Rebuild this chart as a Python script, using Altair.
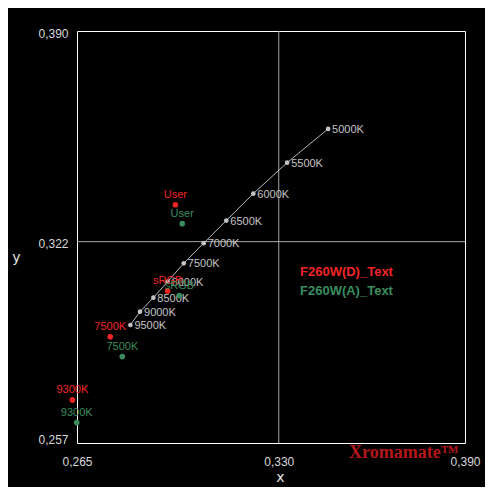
import altair as alt
import pandas as pd

# Daylight locus (gray)
gray_labels = ["5000K", "5500K", "6000K", "6500K", "7000K", "7500K", "8000K", "8500K", "9000K", "9500K"]
gray_x = [0.3459, 0.3327, 0.3218, 0.3131, 0.3058, 0.2994, 0.2942, 0.2896, 0.2853, 0.2822]
gray_y = [0.3584, 0.3475, 0.3375, 0.3288, 0.3215, 0.3150, 0.3091, 0.3039, 0.2994, 0.2951]

# F260W(D) measurements (red)
d_labels = ["User", "sRGB", "7500K", "9300K"]
d_x = [0.2967, 0.2942, 0.2757, 0.2635]
d_y = [0.3339, 0.3061, 0.2913, 0.2709]

# F260W(A) measurements (green)
a_labels = ["User", "sRGB", "7500K", "9300K"]
a_x = [0.2989, 0.2980, 0.2796, 0.2649]
a_y = [0.3278, 0.3046, 0.2849, 0.2636]

x_ticks = [0.265, 0.330, 0.390]
y_ticks = [0.257, 0.322, 0.390]
x_grid = [0.330]
y_grid = [0.322]

legend_texts = ["F260W(D)_Text", "F260W(A)_Text"]
brand = "Xromamate™"

GRAY = "#c4c4c4"
RED = "#f22424"
GREEN = "#3a8c5e"

gray_df = pd.DataFrame({"x": gray_x, "y": gray_y, "label": gray_labels, "order": list(range(len(gray_x)))})
d_df = pd.DataFrame({"x": d_x, "y": d_y, "label": d_labels})
a_df = pd.DataFrame({"x": a_x, "y": a_y, "label": a_labels})

label_expr = "replace(format(datum.value, '.3f'), '.', ',')"

xs = alt.Scale(domain=[0.265, 0.390], nice=False, zero=False)
ys = alt.Scale(domain=[0.257, 0.390], nice=False, zero=False)

x_axis = alt.Axis(
    values=x_ticks, labelExpr=label_expr, grid=False, domain=False, ticks=False, tickSize=0,
    labelFlush=False, labelOverlap=False,
    labelPadding=18, labelBaseline="middle", labelFontSize=12, labelColor="#d8d8d8",
    labelFont="Liberation Sans", title="x", titleX=203, titleY=34, titleAlign="center",
    titleBaseline="middle", titleFontSize=14, titleFontWeight="normal", titleColor="#e6e6e6",
    titleFont="DejaVu Sans",
)
y_axis = alt.Axis(
    values=y_ticks, labelExpr=label_expr, grid=False, domain=False, ticks=False, tickSize=0,
    labelFlush=False, labelOverlap=False,
    labelPadding=9, labelAlign="right", labelBaseline="middle", labelFontSize=12,
    labelColor="#d8d8d8", labelFont="Liberation Sans",
    labelOffset={"condition": {"test": "datum.value < 0.26", "value": -4}, "value": 2},
    title="y", titleAngle=0, titleX=-61, titleY=226, titleAlign="center",
    titleBaseline="middle", titleFontSize=14, titleFontWeight="normal", titleColor="#e6e6e6",
    titleFont="DejaVu Sans",
)

base_gray = alt.Chart(gray_df).encode(
    x=alt.X("x:Q", scale=xs, axis=x_axis),
    y=alt.Y("y:Q", scale=ys, axis=y_axis),
)

vgrid = alt.Chart(pd.DataFrame({"gx": x_grid})).mark_rule(color="#a8a8a8", strokeWidth=1).encode(
    x=alt.X("gx:Q", scale=xs)
)
hgrid = alt.Chart(pd.DataFrame({"gy": y_grid})).mark_rule(color="#a8a8a8", strokeWidth=1).encode(
    y=alt.Y("gy:Q", scale=ys)
)

line = base_gray.mark_line(color="#b8b8b8", strokeWidth=1).encode(order="order:Q")
gpts = base_gray.mark_circle(color=GRAY, size=22, opacity=1)
gtxt = base_gray.mark_text(
    color=GRAY, align="left", baseline="middle", dx=4, dy=1, fontSize=11, font="Liberation Sans"
).encode(text="label:N")


def measured(df, color):
    b = alt.Chart(df).encode(x=alt.X("x:Q", scale=xs), y=alt.Y("y:Q", scale=ys))
    p = b.mark_circle(color=color, size=32, opacity=1)
    t = b.mark_text(
        color=color, align="center", baseline="middle", dy=-10, fontSize=11, font="Liberation Sans"
    ).encode(text="label:N")
    return p + t


leg_df = pd.DataFrame({"t": legend_texts, "c": [RED, GREEN], "py": [241, 260]})
legend = alt.Chart(leg_df).mark_text(
    align="left", baseline="middle", fontSize=13, fontWeight="bold", font="Liberation Sans"
).encode(
    x=alt.value(223),
    y=alt.Y("py:Q", scale=None),
    text="t:N",
    color=alt.Color("c:N", scale=None),
)

brand_df = pd.DataFrame({"t": [brand]})
brand_txt = alt.Chart(brand_df).mark_text(
    align="left", baseline="middle", fontSize=18, fontWeight="bold", font="Liberation Serif",
    color="#b4161a",
).encode(x=alt.value(272), y=alt.value(422), text="t:N")

chart = alt.layer(
    vgrid, hgrid, line, gpts, gtxt,
    measured(d_df, RED), measured(a_df, GREEN),
    legend, brand_txt,
).properties(
    width=388, height=412,
    padding={"left": 69, "top": 23, "right": 20, "bottom": 44},
    autosize=alt.AutoSizeParams(type="none"),
    background="black",
).configure_view(stroke="white", strokeWidth=1)

chart.save("out.html", embed_options={"renderer": "svg", "actions": False})
